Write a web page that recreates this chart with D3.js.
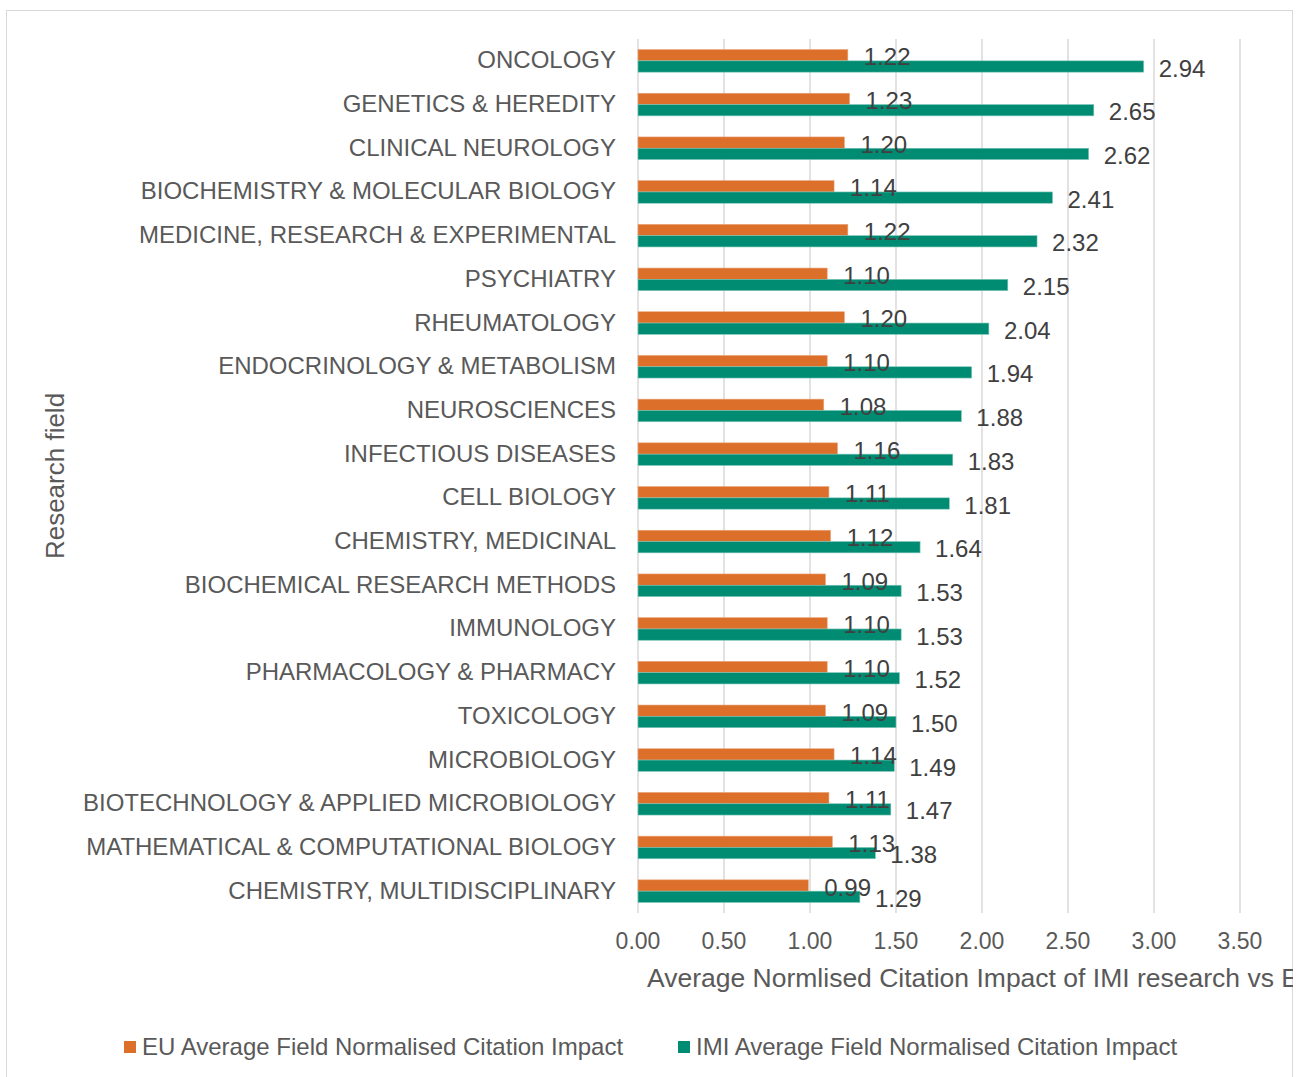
<!DOCTYPE html>
<html>
<head>
<meta charset="utf-8">
<script src="https://cdn.jsdelivr.net/npm/d3@7"></script>
<style>
  body { margin: 0; background: #fff; }
  text { font-family: "Liberation Sans", Arial, sans-serif; }
</style>
</head>
<body>
<svg id="chart"></svg>
<script>
let width = 1308;
let height = 1077;

let fields = ["ONCOLOGY", "GENETICS & HEREDITY", "CLINICAL NEUROLOGY",
  "BIOCHEMISTRY & MOLECULAR BIOLOGY", "MEDICINE, RESEARCH & EXPERIMENTAL",
  "PSYCHIATRY", "RHEUMATOLOGY", "ENDOCRINOLOGY & METABOLISM", "NEUROSCIENCES",
  "INFECTIOUS DISEASES", "CELL BIOLOGY", "CHEMISTRY, MEDICINAL",
  "BIOCHEMICAL RESEARCH METHODS", "IMMUNOLOGY", "PHARMACOLOGY & PHARMACY",
  "TOXICOLOGY", "MICROBIOLOGY", "BIOTECHNOLOGY & APPLIED MICROBIOLOGY",
  "MATHEMATICAL & COMPUTATIONAL BIOLOGY", "CHEMISTRY, MULTIDISCIPLINARY"];
let euValues = [1.22, 1.23, 1.20, 1.14, 1.22, 1.10, 1.20, 1.10, 1.08, 1.16,
  1.11, 1.12, 1.09, 1.10, 1.10, 1.09, 1.14, 1.11, 1.13, 0.99];
let imiValues = [2.94, 2.65, 2.62, 2.41, 2.32, 2.15, 2.04, 1.94, 1.88, 1.83,
  1.81, 1.64, 1.53, 1.53, 1.52, 1.50, 1.49, 1.47, 1.38, 1.29];
let xTicks = [0, 0.5, 1, 1.5, 2, 2.5, 3, 3.5];
let seriesNames = ["EU Average Field Normalised Citation Impact",
  "IMI Average Field Normalised Citation Impact"];

let orange = "#dc6f29";
let green = "#008c73";

const svg = d3.select("#chart")
  .attr("width", width)
  .attr("height", height);

svg.append("clipPath").attr("id", "frame")
  .append("rect").attr("x", 6).attr("y", 10).attr("width", 1287).attr("height", 1080);

svg.append("rect")
  .attr("x", 6.5).attr("y", 10.5)
  .attr("width", 1286).attr("height", 1080)
  .attr("fill", "#fff").attr("stroke", "#d9d9d9");

const g = svg.append("g").attr("clip-path", "url(#frame)");

let xScale = d3.scaleLinear().domain([0, 4]).range([638, 1326]);
let yScale = d3.scaleBand().domain(fields).range([39, 913]);
let barH = 11.3;

// gridlines
g.selectAll(".grid").data(xTicks).enter().append("line")
  .attr("x1", d => xScale(d)).attr("x2", d => xScale(d))
  .attr("y1", 39).attr("y2", 913)
  .attr("stroke", "#d9d9d9").attr("stroke-width", 1.5);

// tick labels
g.selectAll(".tick").data(xTicks).enter().append("text")
  .attr("x", d => xScale(d)).attr("y", 949)
  .attr("text-anchor", "middle")
  .attr("font-size", 23).attr("fill", "#595959")
  .text(d => d.toFixed(2));

// category labels
g.selectAll(".cat").data(fields).enter().append("text")
  .attr("x", 616)
  .attr("y", d => yScale(d) + yScale.bandwidth() / 2 + 7.5)
  .attr("text-anchor", "end")
  .attr("font-size", 24).attr("fill", "#595959")
  .text(d => d);

let off = (yScale.bandwidth() - 2 * barH) / 2;

// EU bars
g.selectAll(".eu").data(fields).enter().append("rect")
  .attr("x", xScale(0))
  .attr("y", d => yScale(d) + off)
  .attr("width", (d, i) => xScale(euValues[i]) - xScale(0))
  .attr("height", barH)
  .attr("fill", orange).attr("stroke", "#e9a57a").attr("stroke-width", 0.6);

// IMI bars
g.selectAll(".imi").data(fields).enter().append("rect")
  .attr("x", xScale(0))
  .attr("y", d => yScale(d) + off + barH)
  .attr("width", (d, i) => xScale(imiValues[i]) - xScale(0))
  .attr("height", barH)
  .attr("fill", green).attr("stroke", "#7fc5b8").attr("stroke-width", 0.6);

// value labels
g.selectAll(".euLabel").data(fields).enter().append("text")
  .attr("x", (d, i) => xScale(euValues[i]) + 16)
  .attr("y", d => yScale(d) + off + barH / 2 + 10)
  .attr("font-size", 24).attr("fill", "#404040")
  .text((d, i) => euValues[i].toFixed(2));

g.selectAll(".imiLabel").data(fields).enter().append("text")
  .attr("x", (d, i) => xScale(imiValues[i]) + 15)
  .attr("y", d => yScale(d) + off + barH * 1.5 + 10)
  .attr("font-size", 24).attr("fill", "#404040")
  .text((d, i) => imiValues[i].toFixed(2));

// axis titles
g.append("text")
  .attr("x", 647).attr("y", 987)
  .attr("font-size", 26.5).attr("fill", "#595959")
  .text("Average Normlised Citation Impact of IMI research vs EU");

g.append("text")
  .attr("transform", "translate(64,476) rotate(-90)")
  .attr("text-anchor", "middle")
  .attr("font-size", 26).attr("fill", "#595959")
  .text("Research field");

// legend
let legendX = [124, 678];
let legendColors = [orange, green];
seriesNames.forEach((name, i) => {
  g.append("rect")
    .attr("x", legendX[i]).attr("y", 1041)
    .attr("width", 12).attr("height", 12)
    .attr("fill", legendColors[i]);
  g.append("text")
    .attr("x", legendX[i] + 18).attr("y", 1055)
    .attr("font-size", 24).attr("fill", "#595959")
    .text(name);
});
</script>
</body>
</html>
